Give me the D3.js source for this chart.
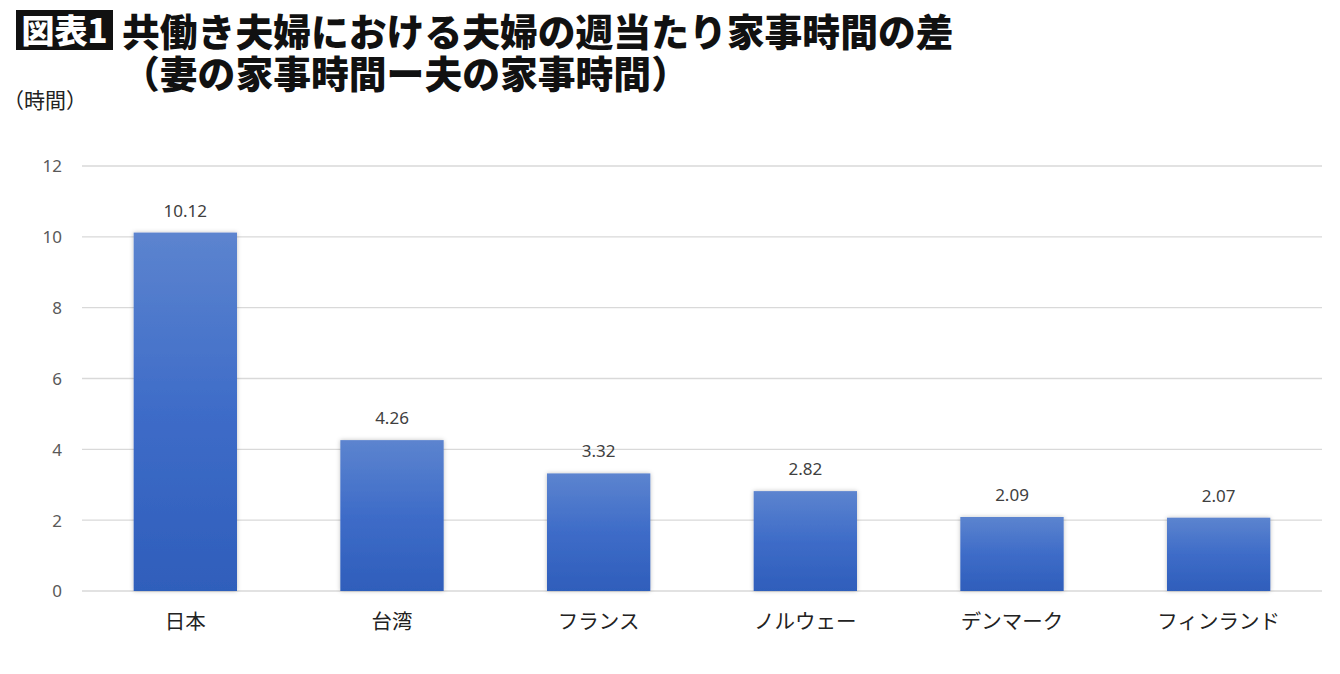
<!DOCTYPE html>
<html><head><meta charset="utf-8">
<script src="https://cdn.jsdelivr.net/npm/d3@7"></script>
<style>
html,body{margin:0;padding:0;background:#fff;}
svg{display:block;font-family:"Noto Sans CJK JP","Noto Sans",sans-serif;}
</style></head>
<body>
<svg id="chart" width="1340" height="674"></svg>
<script>
const categories = ["日本","台湾","フランス","ノルウェー","デンマーク","フィンランド"];
const values = [10.12, 4.26, 3.32, 2.82, 2.09, 2.07];
const valueLabels = ["10.12","4.26","3.32","2.82","2.09","2.07"];
const yTicks = [0,2,4,6,8,10,12];
const titleBadge = "図表1";
const titleLine1 = "共働き夫婦における夫婦の週当たり家事時間の差";
const titleLine2 = "（妻の家事時間ー夫の家事時間）";
const unitLabel = "（時間）";

const svg = d3.select("#chart");
const margin = {left: 82, right: 18, top: 166, bottom: 83};
const W = 1340, H = 674;

const x = d3.scaleBand().domain(categories).range([margin.left, W - margin.right]).paddingInner(0.5).paddingOuter(0.25);
const y = d3.scaleLinear().domain([0, 12]).range([591, 166]);

const defs = svg.append("defs");
const grad = defs.append("linearGradient").attr("id","barGrad").attr("x1",0).attr("y1",0).attr("x2",0).attr("y2",1);
grad.append("stop").attr("offset","0%").attr("stop-color","#5C84CF");
grad.append("stop").attr("offset","50%").attr("stop-color","#3E6CC8");
grad.append("stop").attr("offset","100%").attr("stop-color","#2F5EBB");
const filt = defs.append("filter").attr("id","shadow").attr("x","-10%").attr("y","-10%").attr("width","120%").attr("height","120%");
filt.append("feDropShadow").attr("dx",0).attr("dy",0).attr("stdDeviation",2).attr("flood-color","#000").attr("flood-opacity",0.25);

// gridlines
svg.append("g").selectAll("line").data(yTicks).join("line")
  .attr("x1", margin.left).attr("x2", W - margin.right)
  .attr("y1", d => y(d)).attr("y2", d => y(d))
  .attr("stroke", "#D9D9D9").attr("stroke-width", 1.3);

// y axis labels
const yAxis = d3.axisLeft(y).tickValues(yTicks).tickSize(0).tickPadding(0);
const ga = svg.append("g").attr("transform", `translate(62,0)`).call(yAxis);
ga.select(".domain").remove();
ga.selectAll("text").attr("font-size", 17).attr("fill", "#595959").attr("font-family","\"Noto Sans\",sans-serif").attr("dy","0.35em");

// bars
svg.append("g").selectAll("rect").data(values).join("rect")
  .attr("x", (d,i) => x(categories[i]))
  .attr("y", d => y(d))
  .attr("width", x.bandwidth())
  .attr("height", d => y(0) - y(d))
  .attr("fill", "url(#barGrad)")
  .attr("filter", "url(#shadow)");

// value labels
svg.append("g").selectAll("text").data(values).join("text")
  .attr("x", (d,i) => x(categories[i]) + x.bandwidth()/2)
  .attr("y", d => y(d) - 16)
  .attr("text-anchor", "middle")
  .attr("font-size", 17)
  .attr("fill", "#404040")
  .attr("font-family","\"Noto Sans\",sans-serif")
  .text((d,i) => valueLabels[i]);

// x axis labels
const xAxis = d3.axisBottom(x).tickSize(0).tickPadding(0);
const gx = svg.append("g").attr("transform", `translate(0,622)`).call(xAxis);
gx.select(".domain").remove();
gx.selectAll("text").attr("font-size", 20.5).attr("fill", "#222").attr("dy","0.35em")
  .attr("font-family","\"Noto Sans CJK JP\",sans-serif");

// title
svg.append("rect").attr("x", 16).attr("y", 10).attr("width", 97).attr("height", 40).attr("fill", "#111");
svg.append("text").attr("x", 64.5).attr("y", 43).attr("text-anchor","middle")
  .attr("font-size", 33).attr("font-weight", 900).attr("fill","#fff").text(titleBadge);
const t = svg.append("text").attr("font-size", 37.8).attr("font-weight", 900).attr("fill","#111");
t.append("tspan").attr("x", 122).attr("y", 46).text(titleLine1);
t.append("tspan").attr("x", 122).attr("y", 88).text(titleLine2);

svg.append("text").attr("x", 3).attr("y", 108)
  .attr("font-size", 21).attr("fill","#222").text(unitLabel);
</script>
</body></html>
